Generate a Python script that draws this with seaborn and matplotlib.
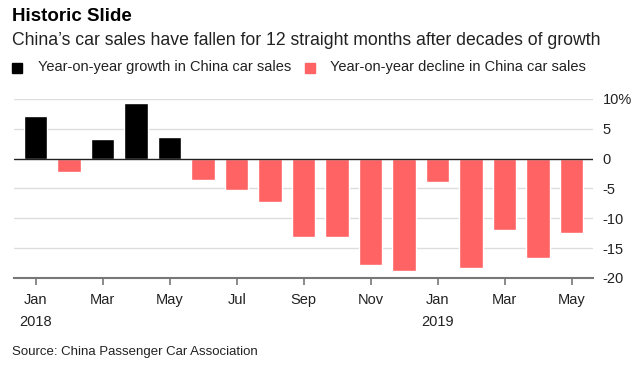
import numpy as np
import pandas as pd
import matplotlib.pyplot as plt
import seaborn as sns
from matplotlib.patches import Rectangle

# ---- data ----
months = ["Jan", "Feb", "Mar", "Apr", "May", "Jun", "Jul", "Aug", "Sep",
          "Oct", "Nov", "Dec", "Jan", "Feb", "Mar", "Apr", "May"]
years = [2018] * 12 + [2019] * 5
yoy_growth = [7.2, -2.3, 3.3, 9.3, 3.7, -3.6, -5.3, -7.3, -13.1,
              -13.1, -17.9, -18.9, -3.9, -18.4, -11.9, -16.6, -12.4]
y_ticks = [10, 5, 0, -5, -10, -15, -20]
y_tick_labels = ["10%", "5", "0", "-5", "-10", "-15", "-20"]

BLACK = "#000000"
RED = "#ff6363"
GRID = "#dddddd"
AXIS_GREY = "#777777"

df = pd.DataFrame({"month": months, "year": years, "value": yoy_growth})
df["pos"] = np.arange(len(df))
df["kind"] = np.where(df["value"] >= 0, "growth", "decline")

sns.set_theme(style="white")
plt.rcParams["font.family"] = ["Liberation Sans", "DejaVu Sans"]

fig = plt.figure(figsize=(6.34, 3.72), dpi=100)
ax = fig.add_axes([0.022, 0.2527, 0.913, 0.4813])

sns.barplot(data=df, x="pos", y="value", hue="kind", order=list(df["pos"]),
            palette={"growth": BLACK, "decline": RED}, dodge=False,
            width=0.7, saturation=1, legend=False, ax=ax, native_scale=True)

ax.set_xlim(-0.65, len(df) - 1 + 0.63)
ax.set_ylim(-20, 10)

# gridlines + zero line
for t in y_ticks:
    if t == 0:
        ax.axhline(0, color="#222222", lw=1.0, zorder=3)
    elif t != -20:
        ax.axhline(t, color=GRID, lw=1.0, zorder=0)

for s in ["top", "left", "right"]:
    ax.spines[s].set_visible(False)
ax.spines["bottom"].set_color(AXIS_GREY)
ax.spines["bottom"].set_linewidth(1.5)
ax.spines["bottom"].set_zorder(4)

ax.yaxis.tick_right()
ax.set_yticks(y_ticks)
ax.set_yticklabels(y_tick_labels)
ax.tick_params(axis="y", length=0, pad=7, labelsize=10.5, labelcolor="#222222")

xt = df["pos"][::2]
ax.set_xticks(xt)
ax.set_xticklabels(df["month"][::2])
ax.tick_params(axis="x", length=5, width=1.2, color=AXIS_GREY, pad=6,
               labelsize=10.5, labelcolor="#222222", bottom=True)
ax.set_xlabel("")
ax.set_ylabel("")

# year labels under January ticks
for p, yr in zip(df["pos"], df["year"]):
    if df.loc[p, "month"] == "Jan":
        ax.text(p, -0.246, str(yr), transform=ax.get_xaxis_transform(),
                ha="center", va="center", fontsize=10.5, color="#222222")

# titles
fig.text(0.019, 0.955, "Historic Slide", fontsize=13.5, fontweight="bold",
         ha="left", va="center", color="#000000")
fig.text(0.019, 0.892, "China\u2019s car sales have fallen for 12 straight months after decades of growth",
         fontsize=12.7, ha="left", va="center", color="#222222")

# legend
fig.patches.append(Rectangle((12 / 634, 1 - 73 / 372), 10 / 634, 10 / 372,
                             transform=fig.transFigure, color=BLACK))
fig.text(38 / 634, 1 - 67 / 372, "Year-on-year growth in China car sales",
         fontsize=10.5, ha="left", va="center", color="#222222")
fig.patches.append(Rectangle((305 / 634, 1 - 73 / 372), 10 / 634, 10 / 372,
                             transform=fig.transFigure, color=RED))
fig.text(330 / 634, 1 - 67 / 372, "Year-on-year decline in China car sales",
         fontsize=10.5, ha="left", va="center", color="#222222")

fig.text(0.019, 1 - 352 / 372, "Source: China Passenger Car Association",
         fontsize=9.5, ha="left", va="center", color="#222222")

fig.savefig("out.png", dpi=100)
